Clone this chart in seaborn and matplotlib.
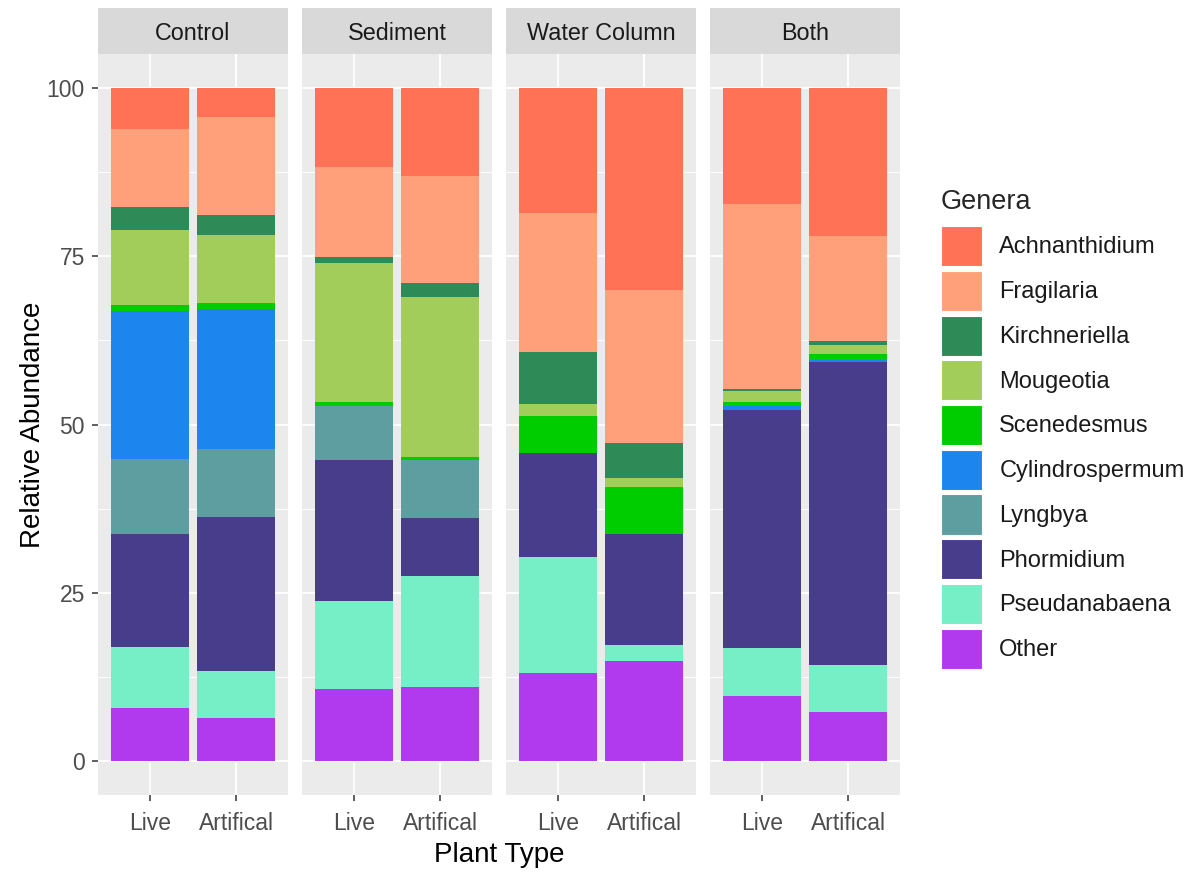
import numpy as np
import pandas as pd
import matplotlib
matplotlib.use("Agg")
import matplotlib.pyplot as plt
from matplotlib.patches import Patch
import seaborn as sns

# Facets, x categories and genera (legend order, top of stack first)
treatments = ["Control", "Sediment", "Water Column", "Both"]
plant_types = ["Live", "Artifical"]
genera = ["Achnanthidium", "Fragilaria", "Kirchneriella", "Mougeotia",
          "Scenedesmus", "Cylindrospermum", "Lyngbya", "Phormidium",
          "Pseudanabaena", "Other"]

# Relative abundance (%) per sample, in the order:
# Control Live, Control Artifical, Sediment Live, Sediment Artifical,
# Water Column Live, Water Column Artifical, Both Live, Both Artifical
achnanthidium   = [6.2, 4.3, 11.8, 13.1, 18.6, 30.1, 17.2, 22.0]
fragilaria      = [11.5, 14.6, 13.4, 15.9, 20.6, 22.7, 27.5, 15.6]
kirchneriella   = [3.5, 2.9, 0.8, 2.0, 7.8, 5.1, 0.4, 0.6]
mougeotia       = [11.0, 10.2, 20.7, 23.8, 1.7, 1.4, 1.6, 1.3]
scenedesmus     = [0.9, 0.8, 0.5, 0.5, 5.5, 6.9, 0.5, 0.9]
cylindrospermum = [22.0, 20.9, 0.0, 0.0, 0.0, 0.0, 0.6, 0.3]
lyngbya         = [11.1, 10.0, 8.1, 8.6, 0.0, 0.0, 0.0, 0.0]
phormidium      = [16.9, 22.9, 20.9, 8.6, 15.5, 16.6, 35.4, 45.0]
pseudanabaena   = [9.0, 6.9, 13.0, 16.4, 17.2, 2.3, 7.1, 7.0]
other           = [7.9, 6.5, 10.8, 11.1, 13.1, 14.9, 9.7, 7.3]

genus_colors = ["#FF7256", "#FFA07A", "#2E8B57", "#A2CD5A", "#00CD00",
                "#1C86EE", "#5F9EA0", "#483D8B", "#76EEC6", "#B23AEE"]

series = [achnanthidium, fragilaria, kirchneriella, mougeotia, scenedesmus,
          cylindrospermum, lyngbya, phormidium, pseudanabaena, other]

# Long table
rows = []
for g, vals in zip(genera, series):
    for k, v in enumerate(vals):
        rows.append({"Treatment": treatments[k // 2],
                     "Plant Type": plant_types[k % 2],
                     "Genera": g, "Abundance": v})
df = pd.DataFrame(rows)
df["Genera"] = pd.Categorical(df["Genera"], categories=genera, ordered=True)

# Stack from the bottom (Other) upward: top edge of each segment
df = df.sort_values(["Treatment", "Plant Type", "Genera"], ascending=[True, True, False])
df["Top"] = df.groupby(["Treatment", "Plant Type"], observed=True)["Abundance"].cumsum()

sns.set_theme(style="darkgrid")
plt.rcParams["font.family"] = ["Liberation Sans", "DejaVu Sans"]

W, H = 1199, 874
fig = plt.figure(figsize=(W / 100, H / 100), dpi=100)
fig.patch.set_facecolor("white")

panel_left = [98, 302, 506, 710]
panel_w = 190
panel_top, panel_bot = 54, 795
strip_top = 8

for i, tr in enumerate(treatments):
    x0 = panel_left[i]
    ax = fig.add_axes([x0 / W, 1 - panel_bot / H, panel_w / W, (panel_bot - panel_top) / H])
    ax.set_facecolor("#EBEBEB")
    sub = df[df["Treatment"] == tr]
    # Cumulative bars, tallest first, so each later bar covers the lower part
    for g, c in zip(genera, genus_colors):
        part = sub[sub["Genera"] == g]
        sns.barplot(data=part, x="Plant Type", y="Top", order=plant_types,
                    color=c, saturation=1, width=0.9, errorbar=None,
                    linewidth=0, ax=ax)
    ax.set_xlim(-0.6, 1.6)
    ax.set_ylim(-5, 105)
    ax.set_yticks([0, 25, 50, 75, 100])
    ax.set_yticks([12.5, 37.5, 62.5, 87.5], minor=True)
    ax.grid(which="major", color="white", linewidth=1.3)
    ax.grid(which="minor", axis="y", color="white", linewidth=0.65)
    ax.set_axisbelow(True)
    for s in ax.spines.values():
        s.set_visible(False)
    ax.set_xlabel("")
    ax.set_ylabel("")
    ax.tick_params(which="major", length=4.5, width=1.1, color="#333333",
                   labelcolor="#4D4D4D", labelsize=16.5,
                   bottom=True, left=(i == 0))
    ax.tick_params(axis="x", which="major", pad=8)
    ax.tick_params(axis="y", which="major", pad=5)
    ax.tick_params(which="minor", length=0)
    if i > 0:
        ax.set_yticklabels([])

    # Facet strip
    sax = fig.add_axes([x0 / W, 1 - panel_top / H, panel_w / W, (panel_top - strip_top) / H])
    sax.set_facecolor("#D9D9D9")
    sax.set_xticks([])
    sax.set_yticks([])
    sax.grid(False)
    for s in sax.spines.values():
        s.set_visible(False)
    sax.text(0.5, 0.44, tr, ha="center", va="center", fontsize=16.8,
             color="#1A1A1A", transform=sax.transAxes)

fig.text((98 + 900) / 2 / W, 1 - 855 / H, "Plant Type", ha="center", va="center",
         fontsize=20, color="black")
fig.text(33 / W, 1 - 425 / H, "Relative Abundance", ha="center", va="center",
         rotation=90, fontsize=20, color="black")

handles = [Patch(facecolor=c, edgecolor="white", linewidth=0.8) for c in genus_colors]
leg = fig.legend(handles, genera, title="Genera", loc="upper left",
                 bbox_to_anchor=(941 / W, 1 - 189 / H), frameon=False,
                 fontsize=17, title_fontsize=19.5, handlelength=1.75,
                 handleheight=2.23, labelspacing=0.2, handletextpad=0.72,
                 borderaxespad=0, borderpad=0)
leg._legend_box.align = "left"
leg._legend_box.sep = 8
for t in leg.get_texts():
    t.set_color("#1A1A1A")

fig.savefig("out.png", dpi=100, facecolor="white")
